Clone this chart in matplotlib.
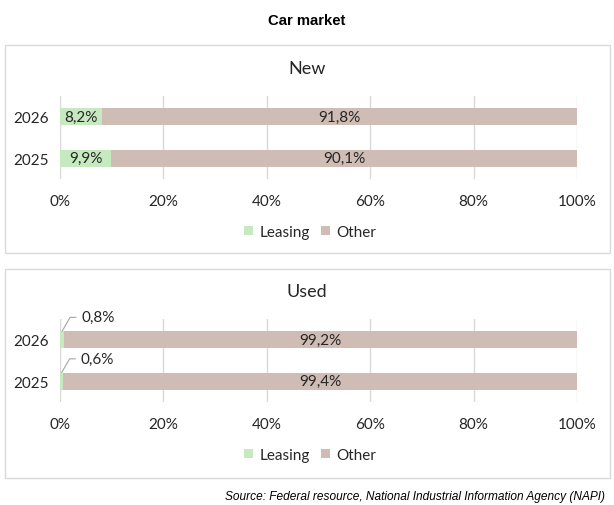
import matplotlib.pyplot as plt
from matplotlib.patches import Rectangle

# data
years = ["2025", "2026"]
new_leasing = [9.9, 8.2]
new_other = [90.1, 91.8]
used_leasing = [0.6, 0.8]
used_other = [99.4, 99.2]
x_ticks = [0, 20, 40, 60, 80, 100]

green = "#c6e9c0"
brown = "#cfbcb5"
grid_col = "#d9d9d9"
txt_col = "#262626"

plt.rcParams["font.family"] = ["Lato", "DejaVu Sans"]

W, H = 614, 506
fig = plt.figure(figsize=(W / 100, H / 100), dpi=100)


def fx(px):
    return px / W


def fy(py):
    return 1 - py / H


# panel frames
for top, bot in [(46, 254), (270, 479)]:
    fig.add_artist(Rectangle((fx(5), fy(bot)), fx(610) - fx(5), fy(top) - fy(bot),
                             transform=fig.transFigure, fill=False,
                             edgecolor=grid_col, linewidth=1))

fig.text(fx(307), fy(21), "Car market", ha="center", va="center",
         fontsize=10.7, fontweight="bold", family="Liberation Sans", color="black")
fig.text(fx(605), fy(497), "Source: Federal resource, National Industrial Information Agency (NAPI)",
         ha="right", va="center", fontsize=8.6, style="italic",
         family="Liberation Sans", color="black")


def draw_panel(top_px, title, title_y, leasing, other, small_labels):
    ax = fig.add_axes([fx(60), fy(top_px + 83), fx(577) - fx(60), 83 / H])
    ypos = list(range(len(years)))
    h = 0.41
    ax.barh(ypos, leasing, height=h, color=green, zorder=2, label="Leasing")
    ax.barh(ypos, other, left=leasing, height=h, color=brown, zorder=2, label="Other")
    ax.set_xlim(0, 100)
    ax.set_ylim(-0.5, 1.5)
    ax.set_yticks(ypos)
    ax.set_yticklabels(years)
    ax.set_xticks(x_ticks)
    ax.set_xticklabels([f"{t}%" for t in x_ticks])
    ax.tick_params(axis="x", length=0, pad=11, labelsize=11, colors=txt_col)
    ax.tick_params(axis="y", length=0, pad=8, labelsize=11, colors=txt_col)
    for s in ax.spines.values():
        s.set_visible(False)
    ax.grid(axis="x", color=grid_col, linewidth=1, zorder=0)
    ax.set_axisbelow(True)

    for i in ypos:
        lab_o = f"{other[i]:.1f}%".replace(".", ",")
        ax.text(leasing[i] + other[i] / 2, i, lab_o, ha="center", va="center",
                fontsize=11, color=txt_col, zorder=3)
        lab_l = f"{leasing[i]:.1f}%".replace(".", ",")
        if small_labels:
            ax.annotate(lab_l, xy=(leasing[i] / 2, i + h / 2), xycoords="data",
                        xytext=(14, 10), textcoords="offset points",
                        ha="left", va="center", fontsize=11, color=txt_col,
                        arrowprops=dict(arrowstyle="-", color="#a6a6a6", lw=0.8,
                                        shrinkA=2, shrinkB=0, relpos=(0, 0.5),
                                        connectionstyle="angle,angleA=0,angleB=60,rad=0"))
        else:
            ax.text(leasing[i] / 2, i, lab_l, ha="center", va="center",
                    fontsize=11, color=txt_col, zorder=3)

    fig.text(fx(307), fy(title_y), title, ha="center", va="center",
             fontsize=13, color=txt_col)
    ax.legend(loc="center", bbox_to_anchor=(fx(310), fy(top_px + 136)),
              bbox_transform=fig.transFigure, ncol=2, frameon=False,
              fontsize=11, handlelength=0.6, handleheight=0.6,
              handletextpad=0.4, columnspacing=0.75, labelcolor=txt_col)
    return ax


draw_panel(97, "New", 69, new_leasing, new_other, False)
draw_panel(320, "Used", 292, used_leasing, used_other, True)

fig.savefig("out.png", dpi=100)
